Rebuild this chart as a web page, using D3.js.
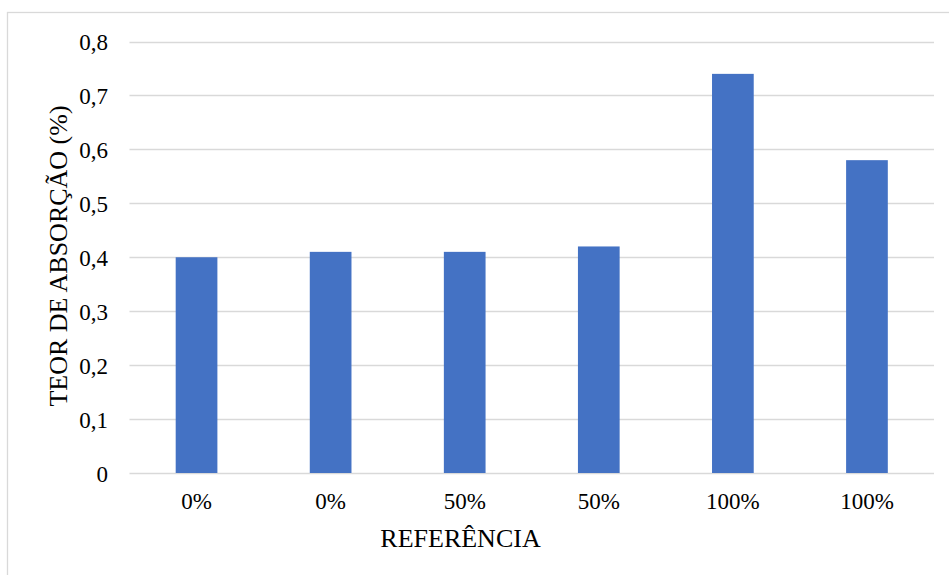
<!DOCTYPE html>
<html>
<head>
<meta charset="utf-8">
<script src="https://cdn.jsdelivr.net/npm/d3@7"></script>
<style>
  html, body { margin: 0; padding: 0; background: #ffffff; }
  svg { display: block; font-family: "Liberation Serif", "Times New Roman", serif; }
</style>
</head>
<body>
<svg id="chart" width="949" height="575"></svg>
<script>
// Absorption content by reference mix
const categories = ["0%", "0%", "50%", "50%", "100%", "100%"];
const values = [0.40, 0.41, 0.41, 0.42, 0.74, 0.58];
const yTicks = [0, 0.1, 0.2, 0.3, 0.4, 0.5, 0.6, 0.7, 0.8];
const yTitle = "TEOR DE ABSORÇÃO (%)";
const xTitle = "REFERÊNCIA";

const SERIF = "Liberation Serif";
const svg = d3.select("#chart");
const W = 949, H = 575;
const plot = { left: 129.5, right: 934, top: 41.5, bottom: 473 };

// Chart frame
svg.append("rect")
  .attr("x", 7.5).attr("y", 12.5)
  .attr("width", W).attr("height", H)
  .attr("fill", "#fff")
  .attr("stroke", "#d9d9d9").attr("stroke-width", 1.3);

const x = d3.scaleBand()
  .domain(d3.range(categories.length))
  .range([plot.left, plot.right])
  .paddingInner(0.689).paddingOuter(0.3445);

const y = d3.scaleLinear().domain([0, 0.8]).range([plot.bottom, plot.top]);

const fmt = v => d3.format(".1~f")(v).replace(".", ",");

// Horizontal gridlines
svg.append("g")
  .selectAll("line")
  .data(yTicks)
  .join("line")
  .attr("x1", plot.left).attr("x2", plot.right)
  .attr("y1", d => Math.round(y(d)) + 0.5).attr("y2", d => Math.round(y(d)) + 0.5)
  .attr("stroke", "#d9d9d9").attr("stroke-width", 1.3);

// Y axis labels
const yAxis = d3.axisLeft(y).tickValues(yTicks).tickFormat(fmt).tickSize(0).tickPadding(0);
const gy = svg.append("g").attr("transform", `translate(108,0)`).call(yAxis)
  .attr("font-family", SERIF).attr("font-size", 23);
gy.select(".domain").remove();
gy.selectAll("text")
  .attr("font-family", SERIF)
  .attr("font-size", 23).attr("fill", "#000").attr("dy", "0.35em");

// Bars
svg.append("g")
  .selectAll("rect")
  .data(values)
  .join("rect")
  .attr("x", (d, i) => x(i))
  .attr("width", x.bandwidth())
  .attr("y", d => y(d))
  .attr("height", d => y(0) - y(d))
  .attr("fill", "#4472c4");

// X axis labels
const xAxis = d3.axisBottom(x).tickFormat(i => categories[i]).tickSize(0).tickPadding(0);
const gx = svg.append("g").attr("transform", `translate(0,${plot.bottom})`).call(xAxis)
  .attr("font-family", SERIF).attr("font-size", 23);
gx.select(".domain").remove();
gx.selectAll("text")
  .attr("font-family", SERIF)
  .attr("font-size", 23).attr("fill", "#000")
  .attr("y", 36).attr("dy", null);

// Axis titles
svg.append("text")
  .attr("x", 460.5).attr("y", 547)
  .attr("text-anchor", "middle")
  .attr("font-family", SERIF).attr("font-size", 26)
  .text(xTitle);

svg.append("text")
  .attr("transform", "translate(67,256) rotate(-90)")
  .attr("text-anchor", "middle")
  .attr("font-family", SERIF).attr("font-size", 26)
  .text(yTitle);
</script>
</body>
</html>
